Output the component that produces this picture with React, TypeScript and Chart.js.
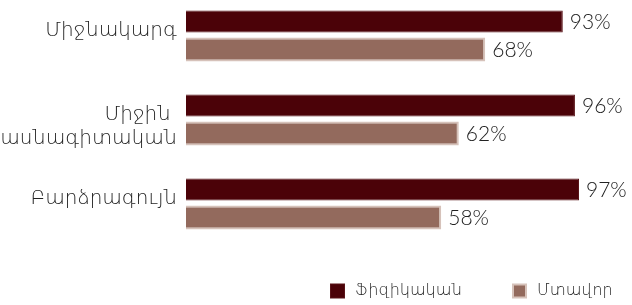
import React, { useEffect, useRef } from "react";
import { Chart, registerables } from "chart.js";

Chart.register(...registerables);

// ---- data ----
const categories: (string | string[])[] = ["Միջնակարգ", ["Միջին ", "մասնագիտական"], "Բարձրագույն"];
const seriesNames = ["Ֆիզիկական", "Մտավոր"];
const physicalValues = [93, 96, 97];
const mentalValues = [68, 62, 58];

// ---- styles ----
const DARK = "#4b0208";
const DARK_BORDER = "#5a1419";
const LIGHT = "#936a5d";
const LIGHT_BORDER = "#d6c2ba";
const TEXT = "#222222";
const NUM_FONT = "Lato, 'DejaVu Sans', sans-serif";
const ARM_FONT = "'DejaVu Sans', sans-serif";

const valueLabelPlugin = {
  id: "valueLabels",
  afterDatasetsDraw(chart: any) {
    const ctx = chart.ctx;
    ctx.save();
    ctx.font = `300 21px ${NUM_FONT}`;
    ctx.fillStyle = TEXT;
    ctx.textAlign = "left";
    ctx.textBaseline = "middle";
    chart.data.datasets.forEach((ds: any, di: number) => {
      const meta = chart.getDatasetMeta(di);
      meta.data.forEach((el: any, i: number) => {
        ctx.fillText(`${ds.data[i]}%`, el.x + 7, el.y + 1);
      });
    });
    ctx.restore();
  },
};

const legendPlugin = {
  id: "customLegend",
  afterDraw(chart: any) {
    const ctx = chart.ctx;
    ctx.save();
    ctx.font = `200 16px ${ARM_FONT}`;
    ctx.textBaseline = "middle";
    ctx.textAlign = "left";
    let x = 330;
    const y = 291;
    const box = 15;
    chart.data.datasets.forEach((ds: any) => {
      ctx.fillStyle = ds.borderColor;
      ctx.fillRect(x, y - box / 2, box, box);
      ctx.fillStyle = ds.backgroundColor;
      const bw = ds.borderWidth;
      ctx.fillRect(x + bw, y - box / 2 + bw, box - 2 * bw, box - 2 * bw);
      ctx.fillStyle = TEXT;
      ctx.fillText(ds.label, x + box + 10, y);
      x += box + 10 + ctx.measureText(ds.label).width + 50;
    });
    ctx.restore();
  },
};

export default function App() {
  const ref = useRef<HTMLCanvasElement | null>(null);

  useEffect(() => {
    if (!ref.current) return;
    const chart = new Chart(ref.current, {
      type: "bar",
      data: {
        labels: categories as any,
        datasets: [
          {
            label: seriesNames[0],
            data: physicalValues,
            backgroundColor: DARK,
            borderColor: DARK_BORDER,
            borderWidth: 1,
            categoryPercentage: 0.667,
            barPercentage: 0.79,
            xAxisID: "x",
            clip: false as any,
          },
          {
            label: seriesNames[1],
            data: mentalValues,
            backgroundColor: LIGHT,
            borderColor: LIGHT_BORDER,
            borderWidth: 2,
            categoryPercentage: 0.667,
            barPercentage: 0.86,
            xAxisID: "x2",
            clip: false as any,
          },
        ],
      },
      options: {
        indexAxis: "y",
        responsive: false,
        animation: false,
        layout: { padding: { top: 35.5, bottom: 101.5, left: 0, right: 6 } },
        plugins: { legend: { display: false }, tooltip: { enabled: false } },
        scales: {
          x: { type: "linear", min: 0, max: 108.6, display: false },
          x2: { type: "linear", min: 0, max: 100, display: false, position: "bottom" },
          y: {
            type: "category",
            offset: false,
            grid: { display: false, drawTicks: false },
            border: { display: false },
            ticks: {
              color: TEXT,
              padding: 9,
              labelOffset: -5,
              font: { family: ARM_FONT, size: 20, lineHeight: 1.2, weight: "200" as any },
              // multi-line labels hang down from the first line's position
              callback: (_v: any, i: number) => {
                const l = categories[i];
                return Array.isArray(l) ? [...Array(l.length - 1).fill(""), ...l] : l;
              },
            },
            afterFit(scale: any) {
              scale.width = 186;
            },
          },
        },
      },
      plugins: [valueLabelPlugin, legendPlugin],
    });
    return () => chart.destroy();
  }, []);

  return (
    <div style={{ position: "absolute", left: 0, top: 0, width: 632, height: 305, background: "#fff" }}>
      <canvas ref={ref} width={632} height={305} />
    </div>
  );
}
